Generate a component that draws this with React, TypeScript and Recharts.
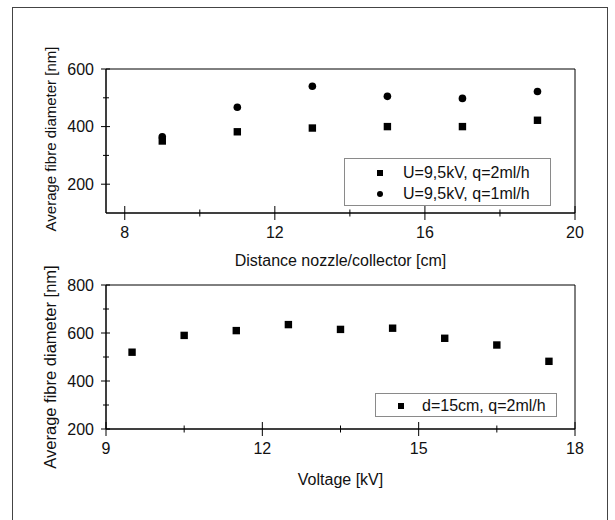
import React from 'react';
import { ScatterChart, Scatter, XAxis, YAxis, ReferenceArea } from 'recharts';

// top panel: fibre diameter vs. nozzle/collector distance
const distances = [9, 11, 13, 15, 17, 19];
const diameterQ2 = [350, 382, 395, 400, 400, 422];
const diameterQ1 = [365, 467, 540, 505, 498, 522];

// bottom panel: fibre diameter vs. voltage
const voltages = [9.5, 10.5, 11.5, 12.5, 13.5, 14.5, 15.5, 16.5, 17.5];
const diameterVoltage = [520, 590, 610, 635, 615, 620, 578, 550, 482];

const distanceTicks = [8, 10, 12, 14, 16, 18, 20];
const distanceLabels = [8, 12, 16, 20];
const topDiameterTicks = [200, 300, 400, 500, 600];
const topDiameterLabels = [200, 400, 600];
const voltageTicks = [9, 10.5, 12, 13.5, 15, 16.5, 18];
const voltageLabels = [9, 12, 15, 18];
const bottomDiameterTicks = [200, 300, 400, 500, 600, 700, 800];
const bottomDiameterLabels = [200, 400, 600, 800];

const seriesNames = ['U=9,5kV, q=2ml/h', 'U=9,5kV, q=1ml/h', 'd=15cm, q=2ml/h'];

const FONT = '"Liberation Sans", Arial, Helvetica, sans-serif';
const INK = '#111';

const topQ2 = distances.map((x, i) => ({ x, y: diameterQ2[i] }));
const topQ1 = distances.map((x, i) => ({ x, y: diameterQ1[i] }));
const bottomData = voltages.map((x, i) => ({ x, y: diameterVoltage[i] }));

const squareShape = (p: any) => (
  <rect x={p.cx - 3.7} y={p.cy - 3.7} width={7.4} height={7.4} fill="#000" />
);
const circleShape = (p: any) => <circle cx={p.cx} cy={p.cy} r={3.8} fill="#000" />;

// ticks cross the axis line; only the major ones carry a label
const makeXTick = (labels: number[]) => (props: any) => {
  const { x, y, payload } = props;
  const major = labels.includes(payload.value);
  const len = major ? 7 : 3.5;
  return (
    <g>
      <line x1={x} x2={x} y1={y - len} y2={y + len} stroke="#000" />
      {major && (
        <text x={x} y={y + 25} textAnchor="middle" fontSize={16} fontFamily={FONT} fill={INK}>
          {payload.value}
        </text>
      )}
    </g>
  );
};

const makeYTick = (labels: number[]) => (props: any) => {
  const { x, y, payload } = props;
  const major = labels.includes(payload.value);
  return (
    <g>
      <line x1={x - (major ? 5 : 3)} x2={x + (major ? 4 : 3)} y1={y} y2={y} stroke="#000" />
      {major && (
        <text x={x - 12} y={y + 5.5} textAnchor="end" fontSize={16} fontFamily={FONT} fill={INK}>
          {payload.value}
        </text>
      )}
    </g>
  );
};

const makeYLabel = (text: string, size: number, dy: number) => (props: any) => {
  const vb = props.viewBox || {};
  const cx = (vb.x || 0) + 50;
  const cy = (vb.y || 0) + (vb.height || 0) / 2 + dy;
  return (
    <text
      x={cx}
      y={cy}
      transform={`rotate(-90 ${cx} ${cy})`}
      textAnchor="middle"
      dominantBaseline="central"
      fontSize={size}
      fontFamily={FONT}
      fill={INK}
    >
      {text}
    </text>
  );
};

interface LegendItem {
  name: string;
  shape: 'square' | 'circle';
}

const LegendBox: React.FC<{
  items: LegendItem[];
  left: number;
  top: number;
  width: number;
  height: number;
  padTop: number;
  rowH: number;
  markerX: number;
  textX: number;
}> = ({ items, left, top, width, height, padTop, rowH, markerX, textX }) => (
  <div
    style={{
      position: 'absolute',
      left,
      top,
      width,
      height,
      boxSizing: 'border-box',
      border: '1px solid #8a8a8a',
      background: '#fff',
      paddingTop: padTop,
    }}
  >
    {items.map((it) => (
      <div key={it.name} style={{ position: 'relative', height: rowH }}>
        <div
          style={{
            position: 'absolute',
            left: markerX - 3,
            top: rowH / 2 - 3,
            width: 6,
            height: 6,
            background: '#000',
            borderRadius: it.shape === 'circle' ? '50%' : 0,
          }}
        />
        <div
          style={{
            position: 'absolute',
            left: textX,
            top: 0,
            lineHeight: `${rowH}px`,
            fontSize: 16,
            fontFamily: FONT,
            color: INK,
            whiteSpace: 'nowrap',
          }}
        >
          {it.name}
        </div>
      </div>
    ))}
  </div>
);

export default function App() {
  return (
    <div
      style={{
        position: 'absolute',
        left: 0,
        top: 0,
        width: 615,
        height: 520,
        background: '#fff',
        overflow: 'hidden',
      }}
    >
      <div
        style={{
          position: 'absolute',
          left: 12,
          top: 7,
          width: 594,
          height: 540,
          border: '1px solid #444',
        }}
      />

      <div style={{ position: 'absolute', left: 0, top: 0 }}>
        <ScatterChart
          width={615}
          height={270}
          margin={{ top: 69, right: 40, bottom: 0, left: 0 }}
          style={{ overflow: 'visible' }}
        >
          <XAxis
            type="number"
            dataKey="x"
            domain={[7.5, 20]}
            ticks={distanceTicks}
            interval={0}
            tickSize={0}
            tickMargin={0}
            tickLine={false}
            tick={makeXTick(distanceLabels)}
            axisLine={{ stroke: '#000' }}
            height={57}
            allowDataOverflow
            label={{
              value: 'Distance nozzle/collector [cm]',
              position: 'insideBottom',
              offset: 4,
              fill: INK,
              fontSize: 16,
              fontFamily: FONT,
            }}
          />
          <YAxis
            type="number"
            dataKey="y"
            domain={[100, 600]}
            ticks={topDiameterTicks}
            interval={0}
            tickSize={0}
            tickMargin={0}
            tickLine={false}
            tick={makeYTick(topDiameterLabels)}
            axisLine={{ stroke: '#000' }}
            width={106}
            allowDataOverflow
            label={makeYLabel('Average fibre diameter [nm]', 15, -2)}
          />
          <ReferenceArea x1={7.5} x2={20} y1={100} y2={600} fill="none" stroke="#000" ifOverflow="visible" />
          <Scatter name={seriesNames[0]} data={topQ2} shape={squareShape} isAnimationActive={false} />
          <Scatter name={seriesNames[1]} data={topQ1} shape={circleShape} isAnimationActive={false} />
        </ScatterChart>
      </div>

      <div style={{ position: 'absolute', left: 0, top: 250 }}>
        <ScatterChart
          width={615}
          height={270}
          margin={{ top: 35, right: 40, bottom: 34, left: 0 }}
          style={{ overflow: 'visible' }}
        >
          <XAxis
            type="number"
            dataKey="x"
            domain={[9, 18]}
            ticks={voltageTicks}
            interval={0}
            tickSize={0}
            tickMargin={0}
            tickLine={false}
            tick={makeXTick(voltageLabels)}
            axisLine={{ stroke: '#000' }}
            height={57}
            allowDataOverflow
            label={{
              value: 'Voltage [kV]',
              position: 'insideBottom',
              offset: 1,
              fill: INK,
              fontSize: 16,
              fontFamily: FONT,
            }}
          />
          <YAxis
            type="number"
            dataKey="y"
            domain={[200, 800]}
            ticks={bottomDiameterTicks}
            interval={0}
            tickSize={0}
            tickMargin={0}
            tickLine={false}
            tick={makeYTick(bottomDiameterLabels)}
            axisLine={{ stroke: '#000' }}
            width={106}
            allowDataOverflow
            label={makeYLabel('Average fibre diameter [nm]', 16.5, 10)}
          />
          <ReferenceArea x1={9} x2={18} y1={200} y2={800} fill="none" stroke="#000" ifOverflow="visible" />
          <Scatter name={seriesNames[2]} data={bottomData} shape={squareShape} isAnimationActive={false} />
        </ScatterChart>
      </div>

      <LegendBox
        items={[
          { name: seriesNames[0], shape: 'square' },
          { name: seriesNames[1], shape: 'circle' },
        ]}
        left={344}
        top={158}
        width={207}
        height={48}
        padTop={4}
        rowH={20.7}
        markerX={35}
        textX={58}
      />
      <LegendBox
        items={[{ name: seriesNames[2], shape: 'square' }]}
        left={375}
        top={393}
        width={182}
        height={24}
        padTop={1}
        rowH={21}
        markerX={25}
        textX={46}
      />
    </div>
  );
}
